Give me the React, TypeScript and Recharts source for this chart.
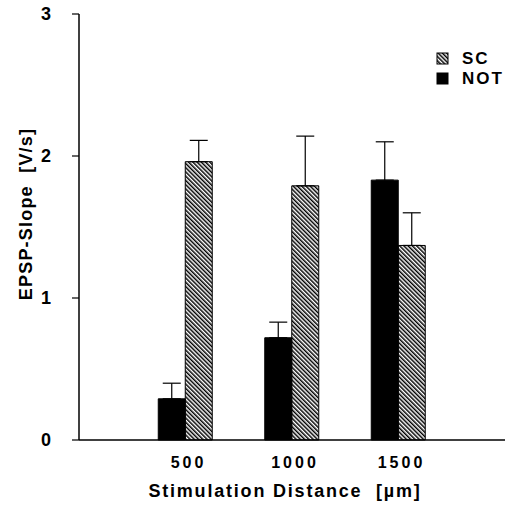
import React from "react";
import { BarChart, Bar, XAxis, YAxis, ErrorBar, Legend, Label } from "recharts";

const distances = [500, 1000, 1500];
const notValues = [0.29, 0.72, 1.83];
const notErrors = [0.11, 0.11, 0.27];
const scValues = [1.96, 1.79, 1.37];
const scErrors = [0.15, 0.35, 0.23];
const xTicks = [500, 1000, 1500];
const yTicks = [0, 1, 2, 3];

const data = distances.map((d, i) => ({
  distance: d,
  NOT: notValues[i],
  notErr: [0, notErrors[i]],
  SC: scValues[i],
  scErr: [0, scErrors[i]],
}));

const FONT = "'Liberation Sans', Arial, sans-serif";

const HatchDef = ({ id }: { id: string }) => (
  <pattern id={id} patternUnits="userSpaceOnUse" width="3" height="10" patternTransform="rotate(-45)">
    <line x1="0.75" y1="-1" x2="0.75" y2="11" stroke="#000" strokeWidth="1.5" />
  </pattern>
);

const LegendContent = () => (
  <div style={{ fontFamily: FONT, fontWeight: "bold", fontSize: 17, letterSpacing: 2 }}>
    {[
      { name: "SC", fill: "url(#hatchLegend)" },
      { name: "NOT", fill: "#000" },
    ].map((it) => (
      <div key={it.name} style={{ display: "flex", alignItems: "center", height: 20 }}>
        <svg width={14} height={14} style={{ marginRight: 12 }}>
          <defs>
            <HatchDef id="hatchLegend" />
          </defs>
          <rect x={1} y={1} width={11} height={11} fill={it.fill} stroke="#000" strokeWidth={1} />
        </svg>
        <span>{it.name}</span>
      </div>
    ))}
  </div>
);

export default function App() {
  return (
    <div style={{ position: "absolute", left: 0, top: 0, background: "#fff" }}>
      <BarChart
        width={512}
        height={512}
        data={data}
        margin={{ top: 14, right: 7, left: 0, bottom: 0 }}
        barGap={0}
      >
        <defs>
          <HatchDef id="hatchBar" />
        </defs>
        <XAxis
          dataKey="distance"
          type="number"
          domain={[0, 2000]}
          ticks={xTicks}
          tickLine={false}
          tickSize={0}
          tickMargin={17}
          height={72}
          axisLine={{ stroke: "#000", strokeWidth: 1.5 }}
          tick={{ fill: "#000", fontFamily: FONT, fontWeight: "bold", fontSize: 16, letterSpacing: 3, dx: 3 }}
        >
          <Label
            value={"Stimulation Distance\u00A0\u00A0[µm]"}
            position="insideBottom"
            offset={15}
            dx={-7}
            style={{ fill: "#000", fontFamily: FONT, fontWeight: "bold", fontSize: 18, letterSpacing: 1.8 }}
          />
        </XAxis>
        <YAxis
          domain={[0, 3]}
          ticks={yTicks}
          width={79}
          tickSize={7}
          tickMargin={21}
          axisLine={{ stroke: "#000", strokeWidth: 1.5 }}
          tickLine={{ stroke: "#000", strokeWidth: 1.2 }}
          tick={{ fill: "#000", fontFamily: FONT, fontWeight: "bold", fontSize: 18 }}
        >
          <Label
            content={() => (
              <text
                transform="translate(32,214) rotate(-90)"
                textAnchor="middle"
                style={{ fill: "#000", fontFamily: FONT, fontWeight: "bold", fontSize: 18, letterSpacing: 1.2 }}
              >
                {"EPSP-Slope\u00A0\u00A0[V/s]"}
              </text>
            )}
          />
        </YAxis>
        <Legend
          verticalAlign="middle"
          align="center"
          layout="vertical"
          content={<LegendContent />}
          wrapperStyle={{ position: "absolute", left: 436, top: 49, width: 80 }}
        />
        <Bar dataKey="NOT" fill="#000" stroke="#000" strokeWidth={1} barSize={27} isAnimationActive={false}>
          <ErrorBar dataKey="notErr" width={9} stroke="#000" strokeWidth={1.2} direction="y" />
        </Bar>
        <Bar dataKey="SC" fill="url(#hatchBar)" stroke="#000" strokeWidth={1} barSize={27} isAnimationActive={false}>
          <ErrorBar dataKey="scErr" width={9} stroke="#000" strokeWidth={1.2} direction="y" />
        </Bar>
      </BarChart>
    </div>
  );
}
